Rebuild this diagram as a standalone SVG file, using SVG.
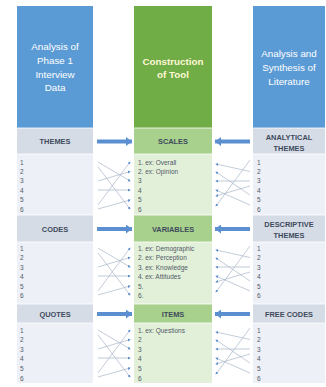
<svg xmlns="http://www.w3.org/2000/svg" width="326" height="387" viewBox="0 0 326 387">
<defs>
<marker id="dot" viewBox="0 0 4 4" refX="3" refY="2" markerWidth="3" markerHeight="3" orient="auto" markerUnits="userSpaceOnUse">
<path d="M0,0 L4,2 L0,4 Z" fill="#5B8FCC"/>
</marker>
<marker id="blk" viewBox="0 0 10 10" refX="10" refY="5" markerWidth="6" markerHeight="9" orient="auto" markerUnits="userSpaceOnUse" preserveAspectRatio="none">
<path d="M0,0 L10,5 L0,10 Z" fill="#5B8FD0"/>
</marker>
</defs>
<style>
.blue{fill:#5B9BD5}
.green{fill:#70AD47}
.hb{fill:#D6DCE6}
.lb{fill:#EDF0F7}
.hg{fill:#A9D18E}
.lg{fill:#E2F0D9}
.sep{stroke:#ffffff;stroke-width:0.8}
.title{font-family:"Liberation Sans",Arial,sans-serif;font-size:9.8px;fill:#ffffff;text-anchor:middle}
.tb{font-family:"Liberation Sans",Arial,sans-serif;font-size:9.8px;font-weight:bold;fill:#FFF8D6;text-anchor:middle}
.hd{font-family:"Liberation Sans",Arial,sans-serif;font-size:7.4px;font-weight:bold;fill:#3E4A5C;text-anchor:middle}
.num{font-family:"Liberation Sans",Arial,sans-serif;font-size:6.5px;fill:#505A66}
.con{stroke:#A8B6C8;stroke-width:0.7;fill:none;marker-end:url(#dot)}
.big{stroke:#5B8FD0;stroke-width:4;fill:none;marker-end:url(#blk)}
</style>

<g id="col-left">
<rect class="blue" x="17" y="6" width="76" height="122"/>
<text class="title" x="55" y="50">Analysis of</text>
<text class="title" x="55" y="64">Phase 1</text>
<text class="title" x="55" y="77.5">Interview</text>
<text class="title" x="55" y="91">Data</text>
</g>
<g id="col-center">
<rect class="green" x="134" y="6" width="78" height="122"/>
<text class="tb" x="173" y="64.5">Construction</text>
<text class="tb" x="173" y="78">of Tool</text>
</g>
<g id="col-right">
<rect class="blue" x="253" y="6" width="72" height="122"/>
<text class="title" x="289" y="57">Analysis and</text>
<text class="title" x="289" y="71">Synthesis of</text>
<text class="title" x="289" y="85">Literature</text>
</g>

<g id="themes">
<rect class="hb" x="17" y="128" width="76" height="26"/>
<text class="hd" x="55" y="144">THEMES</text>
<rect class="lb" x="17" y="154" width="76" height="61"/>
<text class="num" x="20" y="164.5">1</text><text class="num" x="20" y="173.9">2</text><text class="num" x="20" y="183.3">3</text><text class="num" x="20" y="192.7">4</text><text class="num" x="20" y="202.1">5</text><text class="num" x="20" y="211.5">6</text>
</g>
<g id="scales">
<rect class="hg" x="134" y="128" width="78" height="26"/>
<text class="hd" x="173" y="144">SCALES</text>
<rect class="lg" x="134" y="154" width="78" height="61"/>
<text class="num" x="138" y="164.5">1. ex: Overall</text><text class="num" x="138" y="173.9">2. ex: Opinion</text><text class="num" x="138" y="183.3">3</text><text class="num" x="138" y="192.7">4</text><text class="num" x="138" y="202.1">5</text><text class="num" x="138" y="211.5">6</text>
</g>
<g id="analytical-themes">
<rect class="hb" x="253" y="128" width="72" height="26"/>
<text class="hd" x="289" y="139.5">ANALYTICAL</text>
<text class="hd" x="289" y="150.5">THEMES</text>
<rect class="lb" x="253" y="154" width="72" height="61"/>
<text class="num" x="257" y="164.5">1</text><text class="num" x="257" y="173.9">2</text><text class="num" x="257" y="183.3">3</text><text class="num" x="257" y="192.7">4</text><text class="num" x="257" y="202.1">5</text><text class="num" x="257" y="211.5">6</text>
</g>

<g id="codes">
<rect class="hb" x="17" y="215" width="76" height="27"/>
<text class="hd" x="55" y="231.5">CODES</text>
<rect class="lb" x="17" y="242" width="76" height="62"/>
<text class="num" x="20" y="250.5">1</text><text class="num" x="20" y="260">2</text><text class="num" x="20" y="269.5">3</text><text class="num" x="20" y="279">4</text><text class="num" x="20" y="288.5">5</text><text class="num" x="20" y="298">6</text>
</g>
<g id="variables">
<rect class="hg" x="134" y="215" width="78" height="27"/>
<text class="hd" x="173" y="231.5">VARIABLES</text>
<rect class="lg" x="134" y="242" width="78" height="62"/>
<text class="num" x="138" y="250.5">1. ex: Demographic</text><text class="num" x="138" y="260">2. ex: Perception</text><text class="num" x="138" y="269.5">3. ex: Knowledge</text><text class="num" x="138" y="279">4. ex: Attitudes</text><text class="num" x="138" y="288.5">5.</text><text class="num" x="138" y="298">6.</text>
</g>
<g id="descriptive-themes">
<rect class="hb" x="253" y="215" width="72" height="27"/>
<text class="hd" x="289" y="226.5">DESCRIPTIVE</text>
<text class="hd" x="289" y="237.5">THEMES</text>
<rect class="lb" x="253" y="242" width="72" height="62"/>
<text class="num" x="257" y="250.5">1</text><text class="num" x="257" y="260">2</text><text class="num" x="257" y="269.5">3</text><text class="num" x="257" y="279">4</text><text class="num" x="257" y="288.5">5</text><text class="num" x="257" y="298">6</text>
</g>

<g id="quotes">
<rect class="hb" x="17" y="304" width="76" height="19"/>
<text class="hd" x="55" y="316.5">QUOTES</text>
<rect class="lb" x="17" y="323" width="76" height="60"/>
<text class="num" x="20" y="332.5">1</text><text class="num" x="20" y="342.1">2</text><text class="num" x="20" y="351.7">3</text><text class="num" x="20" y="361.3">4</text><text class="num" x="20" y="370.9">5</text><text class="num" x="20" y="380.5">6</text>
</g>
<g id="items">
<rect class="hg" x="134" y="304" width="78" height="19"/>
<text class="hd" x="173" y="316.5">ITEMS</text>
<rect class="lg" x="134" y="323" width="78" height="60"/>
<text class="num" x="138" y="332.5">1. ex: Questions</text><text class="num" x="138" y="342.1">2</text><text class="num" x="138" y="351.7">3</text><text class="num" x="138" y="361.3">4</text><text class="num" x="138" y="370.9">5</text><text class="num" x="138" y="380.5">6</text>
</g>
<g id="free-codes">
<rect class="hb" x="253" y="304" width="72" height="19"/>
<text class="hd" x="289" y="316.5">FREE CODES</text>
<rect class="lb" x="253" y="323" width="72" height="60"/>
<text class="num" x="257" y="332.5">1</text><text class="num" x="257" y="342.1">2</text><text class="num" x="257" y="351.7">3</text><text class="num" x="257" y="361.3">4</text><text class="num" x="257" y="370.9">5</text><text class="num" x="257" y="380.5">6</text>
</g>

<g id="separators">
<line class="sep" x1="17" y1="128" x2="93" y2="128"/><line class="sep" x1="134" y1="128" x2="212" y2="128"/><line class="sep" x1="253" y1="128" x2="325" y2="128"/>
<line class="sep" x1="17" y1="154" x2="93" y2="154"/><line class="sep" x1="134" y1="154" x2="212" y2="154"/><line class="sep" x1="253" y1="154" x2="325" y2="154"/>
<line class="sep" x1="17" y1="215" x2="93" y2="215"/><line class="sep" x1="134" y1="215" x2="212" y2="215"/><line class="sep" x1="253" y1="215" x2="325" y2="215"/>
<line class="sep" x1="17" y1="242" x2="93" y2="242"/><line class="sep" x1="134" y1="242" x2="212" y2="242"/><line class="sep" x1="253" y1="242" x2="325" y2="242"/>
<line class="sep" x1="17" y1="304" x2="93" y2="304"/><line class="sep" x1="134" y1="304" x2="212" y2="304"/><line class="sep" x1="253" y1="304" x2="325" y2="304"/>
<line class="sep" x1="17" y1="323" x2="93" y2="323"/><line class="sep" x1="134" y1="323" x2="212" y2="323"/><line class="sep" x1="253" y1="323" x2="325" y2="323"/>
</g>

<g id="connectors">
<line class="big" x1="97" y1="141.5" x2="132" y2="141.5"/>
<line class="big" x1="250" y1="141.5" x2="215" y2="141.5"/>
<line class="big" x1="97" y1="229" x2="132" y2="229"/>
<line class="big" x1="250" y1="229" x2="215" y2="229"/>
<line class="big" x1="97" y1="314" x2="132" y2="314"/>
<line class="big" x1="250" y1="314" x2="215" y2="314"/>

<g transform="translate(0,162)">
<line class="con" x1="98" y1="0" x2="130" y2="19"/>
<line class="con" x1="98" y1="5" x2="130" y2="47"/>
<line class="con" x1="98" y1="19" x2="130" y2="9.5"/>
<line class="con" x1="98" y1="28" x2="130" y2="28"/>
<line class="con" x1="98" y1="43" x2="130" y2="0"/>
<line class="con" x1="98" y1="47" x2="130" y2="38"/>
<line class="con" x1="250" y1="-2" x2="216" y2="44"/>
<line class="con" x1="250" y1="9.5" x2="216" y2="2"/>
<line class="con" x1="250" y1="19" x2="216" y2="19"/>
<line class="con" x1="250" y1="33" x2="216" y2="10"/>
<line class="con" x1="250" y1="43" x2="216" y2="28"/>
<line class="con" x1="250" y1="24" x2="216" y2="34"/>
</g>
<g transform="translate(0,248)">
<line class="con" x1="98" y1="0" x2="130" y2="19"/>
<line class="con" x1="98" y1="5" x2="130" y2="47"/>
<line class="con" x1="98" y1="19" x2="130" y2="9.5"/>
<line class="con" x1="98" y1="28" x2="130" y2="28"/>
<line class="con" x1="98" y1="43" x2="130" y2="0"/>
<line class="con" x1="98" y1="47" x2="130" y2="38"/>
<line class="con" x1="250" y1="-2" x2="216" y2="44"/>
<line class="con" x1="250" y1="9.5" x2="216" y2="2"/>
<line class="con" x1="250" y1="19" x2="216" y2="19"/>
<line class="con" x1="250" y1="33" x2="216" y2="10"/>
<line class="con" x1="250" y1="43" x2="216" y2="28"/>
<line class="con" x1="250" y1="24" x2="216" y2="34"/>
</g>
<g transform="translate(0,330)">
<line class="con" x1="98" y1="0" x2="130" y2="19"/>
<line class="con" x1="98" y1="5" x2="130" y2="47"/>
<line class="con" x1="98" y1="19" x2="130" y2="9.5"/>
<line class="con" x1="98" y1="28" x2="130" y2="28"/>
<line class="con" x1="98" y1="43" x2="130" y2="0"/>
<line class="con" x1="98" y1="47" x2="130" y2="38"/>
<line class="con" x1="250" y1="-2" x2="216" y2="44"/>
<line class="con" x1="250" y1="9.5" x2="216" y2="2"/>
<line class="con" x1="250" y1="19" x2="216" y2="19"/>
<line class="con" x1="250" y1="33" x2="216" y2="10"/>
<line class="con" x1="250" y1="43" x2="216" y2="28"/>
<line class="con" x1="250" y1="24" x2="216" y2="34"/>
</g>
</g>
</svg>
